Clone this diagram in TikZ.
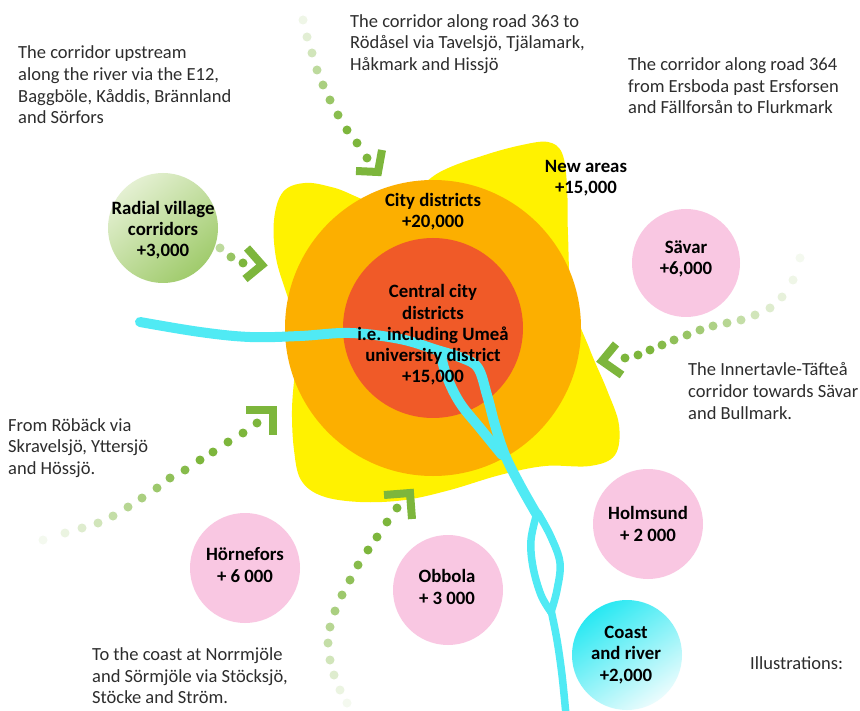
\documentclass[tikz,border=0pt]{standalone}
\usepackage{fontspec}
\setmainfont{Carlito}
\definecolor{yel}{RGB}{255,242,0}
\definecolor{org}{RGB}{252,175,0}
\definecolor{redo}{RGB}{240,90,40}
\definecolor{riv}{RGB}{80,234,244}
\definecolor{agreen}{RGB}{125,182,60}
\definecolor{pinkc}{RGB}{249,199,226}
\definecolor{txt}{RGB}{45,45,45}
\tikzset{
  lbl/.style={font=\fontsize{18.5}{21.6}\selectfont, text=txt, align=left, inner sep=0pt, anchor=west},
  blbl/.style={font=\bfseries\fontsize{18.8}{21.3}\selectfont, text=black, align=center, inner sep=0pt},
  dotg/.style={fill=agreen},
  chev/.style={draw=agreen, line width=8pt, line join=miter},
  river/.style={draw=riv, line width=10pt, line cap=round, line join=round},
  pinkball/.style={fill=pinkc}
}
\begin{document}
\begin{tikzpicture}[x=1pt,y=-1pt]
\useasboundingbox[fill=white] (0,0) rectangle (860,711);

% yellow star
\fill[yel] plot[smooth cycle, tension=0.6] coordinates {
 (298,330) (287,295) (276,258) (274,220) (283,192) (305,183) (335,188)
 (390,205) (440,172) (485,155) (522,145) (548,142) (562,153) (567,185)
 (568,235) (572,300) (590,350) (607,390) (619,425) (615,455) (590,466)
 (545,466) (500,475) (450,490) (405,500) (360,502) (322,496) (301,480)
 (294,450) (292,410) (295,370)};
% orange and red circles
\fill[org] (433,328) circle[radius=148pt];
\fill[redo] (433,328) circle[radius=90pt];

% river
\draw[river] plot[smooth, tension=0.6] coordinates {(140,322) (200,332) (250,337) (300,336) (350,333) (400,339) (437,350) (462,358) (478,368) (487,395) (495,425) (505,455) (520,485) (537,515)};
\draw[river] plot[smooth, tension=0.6] coordinates {(440,352) (447,377) (460,403) (480,428) (502,455)};
\draw[river, line width=7.5pt] plot[smooth, tension=0.6] coordinates {(537,513) (531,540) (533,567) (541,595) (551,612)};
\draw[river, line width=7.5pt] plot[smooth, tension=0.6] coordinates {(538,513) (551,537) (560,563) (557,590) (551,612)};
\draw[river, line width=7.5pt] plot[smooth, tension=0.6] coordinates {(551,610) (557,640) (562,675) (566,715)};

% circles
\shade[top color={rgb,255:red,228;green,240;blue,210}, bottom color={rgb,255:red,160;green,203;blue,108}, shading angle=40]
  (163,228) circle[radius=55pt];
\fill[pinkball] (686,263) circle[radius=54pt];
\fill[pinkball] (648,524) circle[radius=55pt];
\fill[pinkball] (448,590) circle[radius=55pt];
\fill[pinkball] (245,568) circle[radius=55pt];
\shade[top color={rgb,255:red,40;green,232;blue,242}, bottom color={rgb,255:red,235;green,252;blue,253}, shading angle=35]
  (627,655) circle[radius=55pt];

% dotted arrows
\foreach \x/\y/\o in {303/20/.12, 307/37/.22, 312/53/.35, 317/70/.5, 323/85/.65, 330/100/.78, 338/115/.9, 347/130/1, 357/143/1, 367/158/1}
  \fill[dotg, opacity=\o] (\x,\y) circle[radius=4.5pt];
\draw[chev] (356,171) -- (378,172) -- (382,150);

\foreach \x/\y/\o in {220/248/.5, 231/257/.8, 243/263/1}
  \fill[dotg, opacity=\o] (\x,\y) circle[radius=4.5pt];
\draw[chev] (247,248) -- (262,265) -- (245,279);

\foreach \x/\y/\o in {800/258/.08, 793/280/.12, 782/297/.18, 770/308/.25, 755/315/.35, 741/320/.45, 727/323/.55, 713/326/.62, 700/330/.7, 687/335/.8, 674/340/.85, 662/345/.92, 650/350/1, 638/355/1, 625/358/1}
  \fill[dotg, opacity=\o] (\x,\y) circle[radius=4.5pt];
\draw[chev] (616,344) -- (602,361) -- (622,375);

\foreach \x/\y/\o in {43/540/.08, 65/533/.15, 82/528/.25, 98/523/.35, 113/516/.45, 128/507/.55, 142/498/.65, 157/488/.75, 170/478/.85, 185/470/.92, 200/460/1, 213/452/1, 228/442/1, 243/433/1, 257/423/1}
  \fill[dotg, opacity=\o] (\x,\y) circle[radius=4.5pt];
\draw[chev] (246,410) -- (273,410) -- (273,435);

\foreach \x/\y/\o in {347/703/.08, 340/690/.15, 334/675/.25, 330/660/.35, 328/643/.45, 330/627/.55, 335/611/.65, 342/595/.75, 350/580/.85, 358/565/.92, 368/550/1, 377/537/1, 387/522/1, 397/508/1}
  \fill[dotg, opacity=\o] (\x,\y) circle[radius=4.5pt];
\draw[chev] (384,495) -- (410,493) -- (412,519);

% bold labels
\node[blbl] (radial) at (163,230) {Radial village\\corridors\\+3,000};
\node[blbl] (city) at (433,212) {City districts\\+20,000};
\node[blbl] (central) at (433,335) {Central city\\districts\\i.e. including Umeå\\university district\\+15,000};
\node[blbl] (newareas) at (586,178) {New areas\\+15,000};
\node[blbl] (savar) at (686,259) {Sävar\\+6,000};
\node[blbl] (holmsund) at (648,524) {Holmsund\\+ 2 000};
\node[blbl] (coast) at (626,655) {Coast\\and river\\+2,000};
\node[blbl] (obbola) at (447,587) {Obbola\\+ 3 000};
\node[blbl] (hornefors) at (245,565) {Hörnefors\\+ 6 000};

% regular text
\node[lbl] (t1) at (18,85) {The corridor upstream\\along the river via the E12,\\Baggböle, Kåddis, Brännland\\and Sörfors};
\node[lbl] (t2) at (350,44) {The corridor along road 363 to\\Rödåsel via Tavelsjö, Tjälamark,\\Håkmark and Hissjö};
\node[lbl] (t3) at (628,86) {The corridor along road 364\\from Ersboda past Ersforsen\\and Fällforsån to Flurkmark};
\node[lbl] (t4) at (688,391) {The Innertavle-Täfteå\\corridor towards Sävar\\and Bullmark.};
\node[lbl] (t5) at (8,448) {From Röbäck via\\Skravelsjö, Yttersjö\\and Hössjö.};
\node[lbl] (t6) at (92,676) {To the coast at Norrmjöle\\and Sörmjöle via Stöcksjö,\\Stöcke and Ström.};
\node[lbl] (t7) at (750,663) {Illustrations:};
\end{tikzpicture}
\end{document}
